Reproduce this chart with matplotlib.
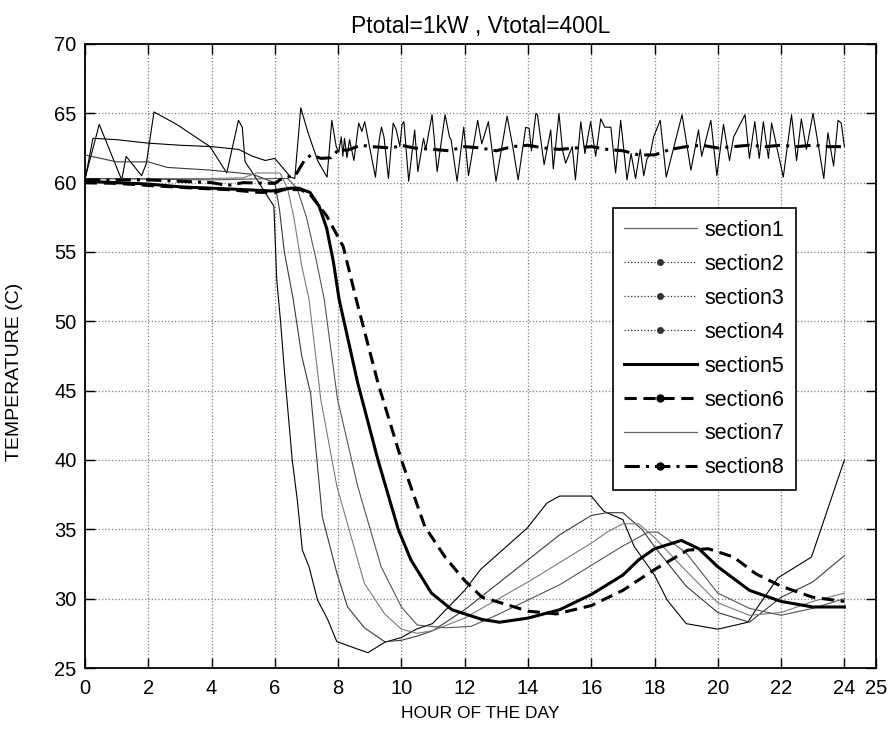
import matplotlib
matplotlib.use("Agg")
import matplotlib.pyplot as plt
from matplotlib.lines import Line2D

plt.rcParams['font.family'] = ['Liberation Sans', 'DejaVu Sans']

# section1 : bottom layer, oscillates before 6h then drops first
h1 = [0, 0.45, 1.16, 1.3, 1.79, 1.94, 2.18, 2.9, 3.95, 4.48, 4.85, 4.97, 5.06, 5.3, 5.97,
      6.06, 6.18, 6.3, 6.55, 6.71, 6.87, 7.08, 7.35, 7.67, 7.96, 8.94, 9.47, 10.0, 10.47,
      10.98, 12.0, 12.5, 13.98, 14.6, 15.0, 16.0, 16.4, 17.0, 17.36, 18.0, 18.4, 19.0,
      20.0, 20.95, 21.2, 21.9, 22.96, 24.0]
t1 = [60.3, 64.2, 60.2, 61.9, 60.5, 61.4, 65.1, 64.2, 62.6, 60.7, 64.5, 64.0, 61.5, 60.7, 58.3,
      53.0, 50.0, 46.5, 40.0, 37.1, 33.5, 32.3, 29.9, 28.5, 26.9, 26.1, 26.85, 27.2, 27.8,
      28.2, 30.6, 32.1, 35.1, 36.9, 37.4, 37.4, 36.3, 35.7, 33.75, 31.7, 29.9, 28.2,
      27.8, 28.3, 29.2, 31.5, 33.0, 40.0]

h2 = [0, 1.0, 2.0, 2.6, 4.0, 5.3, 6.0, 6.15, 6.3, 6.58, 6.85, 7.13, 7.5, 7.96, 8.3, 8.83,
      9.47, 10.0, 10.5, 11.0, 12.0, 13.0, 14.0, 15.0, 16.0, 16.5, 17.0, 17.6, 18.0, 19.0,
      20.0, 21.0, 22.0, 23.0, 24.0]
t2 = [62.0, 61.5, 61.5, 61.1, 60.9, 60.6, 60.0, 58.0, 55.0, 51.6, 47.5, 44.8, 35.9, 31.85, 29.4, 27.9,
      26.9, 27.0, 27.3, 27.7, 29.2, 31.0, 32.8, 34.6, 36.0, 36.2, 36.2, 35.0, 33.75, 30.9,
      29.0, 28.3, 30.1, 31.2, 33.1]

h3 = [0, 2, 4, 5.0, 5.43, 6.16, 6.4, 6.6, 6.85, 7.08, 7.45, 7.96, 8.83, 9.47, 10.0, 10.5,
      11.0, 12, 13, 14, 15, 16, 16.5, 17, 17.5, 18, 19, 20, 21, 22, 23, 24]
t3 = [60.3, 60.3, 60.3, 60.35, 60.7, 60.7, 59.6, 57.5, 54.0, 51.6, 44.4, 38.1, 31.1, 28.9, 27.8, 27.5,
      27.7, 28.6, 29.9, 31.2, 32.6, 34.0, 34.8, 35.4, 35.4, 34.4, 32.0, 29.7, 28.8, 29.0, 29.8, 30.4]

h4 = [0, 2, 4, 6.0, 6.4, 6.7, 7.0, 7.3, 7.56, 7.98, 8.62, 9.36, 10.0, 10.5, 11.4, 12.2,
      13, 14, 15, 16, 17, 17.8, 18.1, 19, 20, 21, 22, 23, 24]
t4 = [60.3, 60.25, 60.2, 60.3, 60.3, 59.6, 57.5, 54.5, 51.6, 44.4, 38.1, 32.3, 29.4, 28.1, 27.9, 28.0,
      28.8, 29.9, 31.0, 32.4, 33.8, 34.8, 34.8, 33.3, 30.4, 29.3, 28.8, 29.3, 30.0]

h5 = [0, 1, 2, 3, 4, 5, 5.9, 6.2, 6.5, 6.75, 7.11, 7.4, 7.64, 7.85, 8.03, 8.62, 9.26, 9.9,
      10.3, 10.95, 11.6, 12.55, 13.1, 14, 15, 16, 17, 17.5, 18, 18.85, 19.4, 20, 21, 22, 23, 24]
t5 = [60.1, 60.0, 59.9, 59.7, 59.6, 59.5, 59.4, 59.5, 59.6, 59.6, 59.3, 58.3, 56.7, 54.3, 51.6, 45.55, 40.0, 35.0,
      32.8, 30.4, 29.2, 28.5, 28.3, 28.6, 29.2, 30.3, 31.7, 32.8, 33.6, 34.2, 33.6, 32.3, 30.6, 29.8, 29.4, 29.4]

h6 = [0, 1, 2, 3.5, 4.5, 5.5, 6.0, 6.3, 6.8, 7.1, 7.64, 8.16, 8.57, 9.26, 10.0, 10.74, 11.38,
      12.0, 12.55, 13.0, 14.0, 14.9, 16.0, 17.0, 18.0, 19.05, 19.7, 20.5, 21.2, 22, 23, 24]
t6 = [60.0, 59.95, 59.8, 59.6, 59.5, 59.3, 59.3, 59.5, 59.5, 59.2, 57.6, 55.4, 51.6, 45.55, 40.0, 35.2, 33.0,
      31.3, 30.1, 29.8, 29.1, 28.9, 29.5, 30.6, 32.1, 33.5, 33.6, 33.0, 31.8, 30.9, 30.1, 29.8]

# section7 : heater section, thermostat cycling after 6h
h7 = [0, 0.25, 1.0, 2.0, 3.0, 4.0, 4.85, 5.3, 5.7, 6.0, 6.5, 6.63, 6.82, 7.05, 7.35, 7.65, 7.8,
      7.94, 8.02, 8.1, 8.15, 8.2, 8.28, 8.36, 8.5, 8.65, 8.75, 8.84, 9.0, 9.18, 9.3, 9.37, 9.45,
      9.59, 9.74, 9.84, 9.95, 10.02, 10.08, 10.23, 10.42, 10.52, 10.7, 10.77, 10.97, 11.13,
      11.38, 11.52, 11.57, 11.76, 11.97, 12.12, 12.41, 12.54, 12.75, 12.99, 13.34, 13.52,
      13.69, 13.93, 14.04, 14.11, 14.25, 14.3, 14.51, 14.72, 14.8, 14.98, 15.09, 15.19, 15.4,
      15.5, 15.67, 15.8, 15.98, 16.14, 16.3, 16.43, 16.62, 16.77, 16.93, 17.13, 17.26, 17.4,
      17.55, 17.66, 17.76, 17.87, 17.97, 18.18, 18.37, 18.87, 19.15, 19.39, 19.49, 19.78,
      19.97, 20.18, 20.37, 20.5, 20.86, 21.0, 21.17, 21.31, 21.44, 21.6, 21.7, 22.07, 22.33,
      22.49, 22.64, 22.8, 23.01, 23.35, 23.48, 23.66, 23.8, 23.9, 24.0]
t7 = [60.2, 63.2, 63.1, 62.85, 62.7, 62.6, 62.4, 61.9, 61.6, 61.75, 60.4, 60.3, 65.4, 63.6, 61.6, 60.4, 64.5,
      62.6, 62.2, 63.3, 61.9, 63.2, 61.8, 63.1, 61.6, 64.3, 63.7, 64.4, 62.5, 60.4, 63.1, 64.0, 63.3,
      60.3, 64.3, 63.8, 62.6, 64.2, 64.4, 60.1, 63.8, 60.8, 63.2, 62.4, 64.9, 60.8,
      64.9, 63.3, 63.1, 60.1, 64.0, 60.5, 64.5, 62.8, 64.4, 60.1, 64.8, 62.6,
      60.2, 64.0, 63.9, 62.3, 65.0, 64.9, 61.3, 63.8, 61.0, 65.0, 62.4, 61.4, 62.6,
      60.2, 64.4, 62.1, 64.4, 61.9, 64.6, 64.0, 64.0, 60.7, 64.5, 60.2, 62.1, 60.3,
      62.4, 60.5, 61.7, 62.1, 63.3, 64.5, 60.4, 64.9, 60.9, 63.8, 61.9, 64.5,
      60.5, 64.2, 61.6, 63.3, 64.9, 61.75, 64.4, 61.75, 64.4, 61.75, 64.3, 60.4, 64.9,
      61.6, 64.6, 62.4, 65.0, 60.3, 63.6, 61.2, 64.5, 64.3, 62.6]

h8 = [0, 1, 2, 3, 4, 4.5, 5, 6, 6.23, 6.66, 6.93, 7.14, 7.46, 7.78, 8.0, 8.3, 8.73, 9.05, 9.37,
      9.7, 10.0, 10.4, 11.0, 11.5, 12.0, 12.5, 13.0, 13.5, 14.0, 14.5, 15.0, 15.5, 16.0, 16.5,
      17.0, 17.5, 18.0, 18.5, 19.0, 19.5, 20.0, 20.5, 21.0, 21.5, 22.0, 22.5, 23.0, 23.5, 24.0]
t8 = [60.2, 60.2, 60.2, 60.1, 60.0, 59.8, 60.0, 59.95, 60.3, 60.55, 61.6, 62.0, 61.75, 61.8, 62.35, 62.35,
      62.7, 62.6, 62.55, 62.5, 62.7, 62.5, 62.4, 62.3, 62.6, 62.5, 62.3, 62.6, 62.7, 62.5, 62.4, 62.5,
      62.6, 62.4, 62.3, 62.0, 62.0, 62.4, 62.6, 62.7, 62.5, 62.6, 62.7, 62.6, 62.7, 62.6, 62.7, 62.6, 62.6]

labels = ['section1', 'section2', 'section3', 'section4', 'section5', 'section6', 'section7', 'section8']
xticks = [0, 2, 4, 6, 8, 10, 12, 14, 16, 18, 20, 22, 24, 25]
yticks = [25, 30, 35, 40, 45, 50, 55, 60, 65, 70]

fig = plt.figure(figsize=(8.9, 7.33), dpi=100)
ax = fig.add_axes([85 / 890, 1 - 668 / 733, 791 / 890, 624 / 733])

dash = (0, (4, 2.2))
dashdot = (0, (5, 2, 1, 2))
styles = [
    dict(color='black', lw=0.8, ls='-'),
    dict(color='#3a3a3a', lw=0.8, ls='-'),
    dict(color='#7a7a7a', lw=0.8, ls='-'),
    dict(color='#555555', lw=0.8, ls='-'),
    dict(color='black', lw=2.2, ls='-'),
    dict(color='black', lw=2.2, ls=dash),
    dict(color='black', lw=0.8, ls='-'),
    dict(color='black', lw=2.2, ls=dashdot),
]
series = [(h1, t1), (h2, t2), (h3, t3), (h4, t4), (h5, t5), (h6, t6), (h7, t7), (h8, t8)]
for (h, t), st in zip(series, styles):
    ax.plot(h, t, **st)

ax.set_xlim(0, 25)
ax.set_ylim(25, 70)
ax.set_xticks(xticks)
ax.set_yticks(yticks)
ax.tick_params(direction='in', length=7, width=1, top=True, right=True, labelsize=14.5)
ax.tick_params(axis='x', pad=8)
ax.tick_params(axis='y', pad=6)
ax.grid(True, ls=':', color='#7f7f7f', lw=0.9)
for s in ax.spines.values():
    s.set_linewidth(1.3)

ax.set_title('Ptotal=1kW , Vtotal=400L', fontsize=16.5, pad=8)
ax.set_xlabel('HOUR OF THE DAY', fontsize=12.5, labelpad=6)
ax.set_ylabel('TEMPERATURE (C)', fontsize=14)
ax.yaxis.set_label_coords(-0.078, 0.474)

# legend samples as drawn by the original tool (a single dot on marker lines)
handles = [
    Line2D([], [], color='#666666', lw=0.9, ls='-'),
    Line2D([], [], color='#333333', lw=0.9, ls=':', marker='.', ms=8),
    Line2D([], [], color='#333333', lw=0.9, ls=':', marker='.', ms=8),
    Line2D([], [], color='#333333', lw=0.9, ls=':', marker='.', ms=8),
    Line2D([], [], color='black', lw=2.2, ls='-'),
    Line2D([], [], color='black', lw=2.2, ls=dash, marker='.', ms=10),
    Line2D([], [], color='#666666', lw=0.9, ls='-'),
    Line2D([], [], color='black', lw=2.2, ls=dashdot, marker='.', ms=10),
]
leg = ax.legend(handles, labels, loc='upper left', bbox_to_anchor=(0.667, 0.737),
                borderaxespad=0, fontsize=15.5, numpoints=1, handlelength=3.35,
                handletextpad=0.37, labelspacing=0.6, borderpad=0.55,
                fancybox=False, framealpha=1, edgecolor='black')
leg.get_frame().set_linewidth(1.2)

fig.savefig('out.png', dpi=100)
